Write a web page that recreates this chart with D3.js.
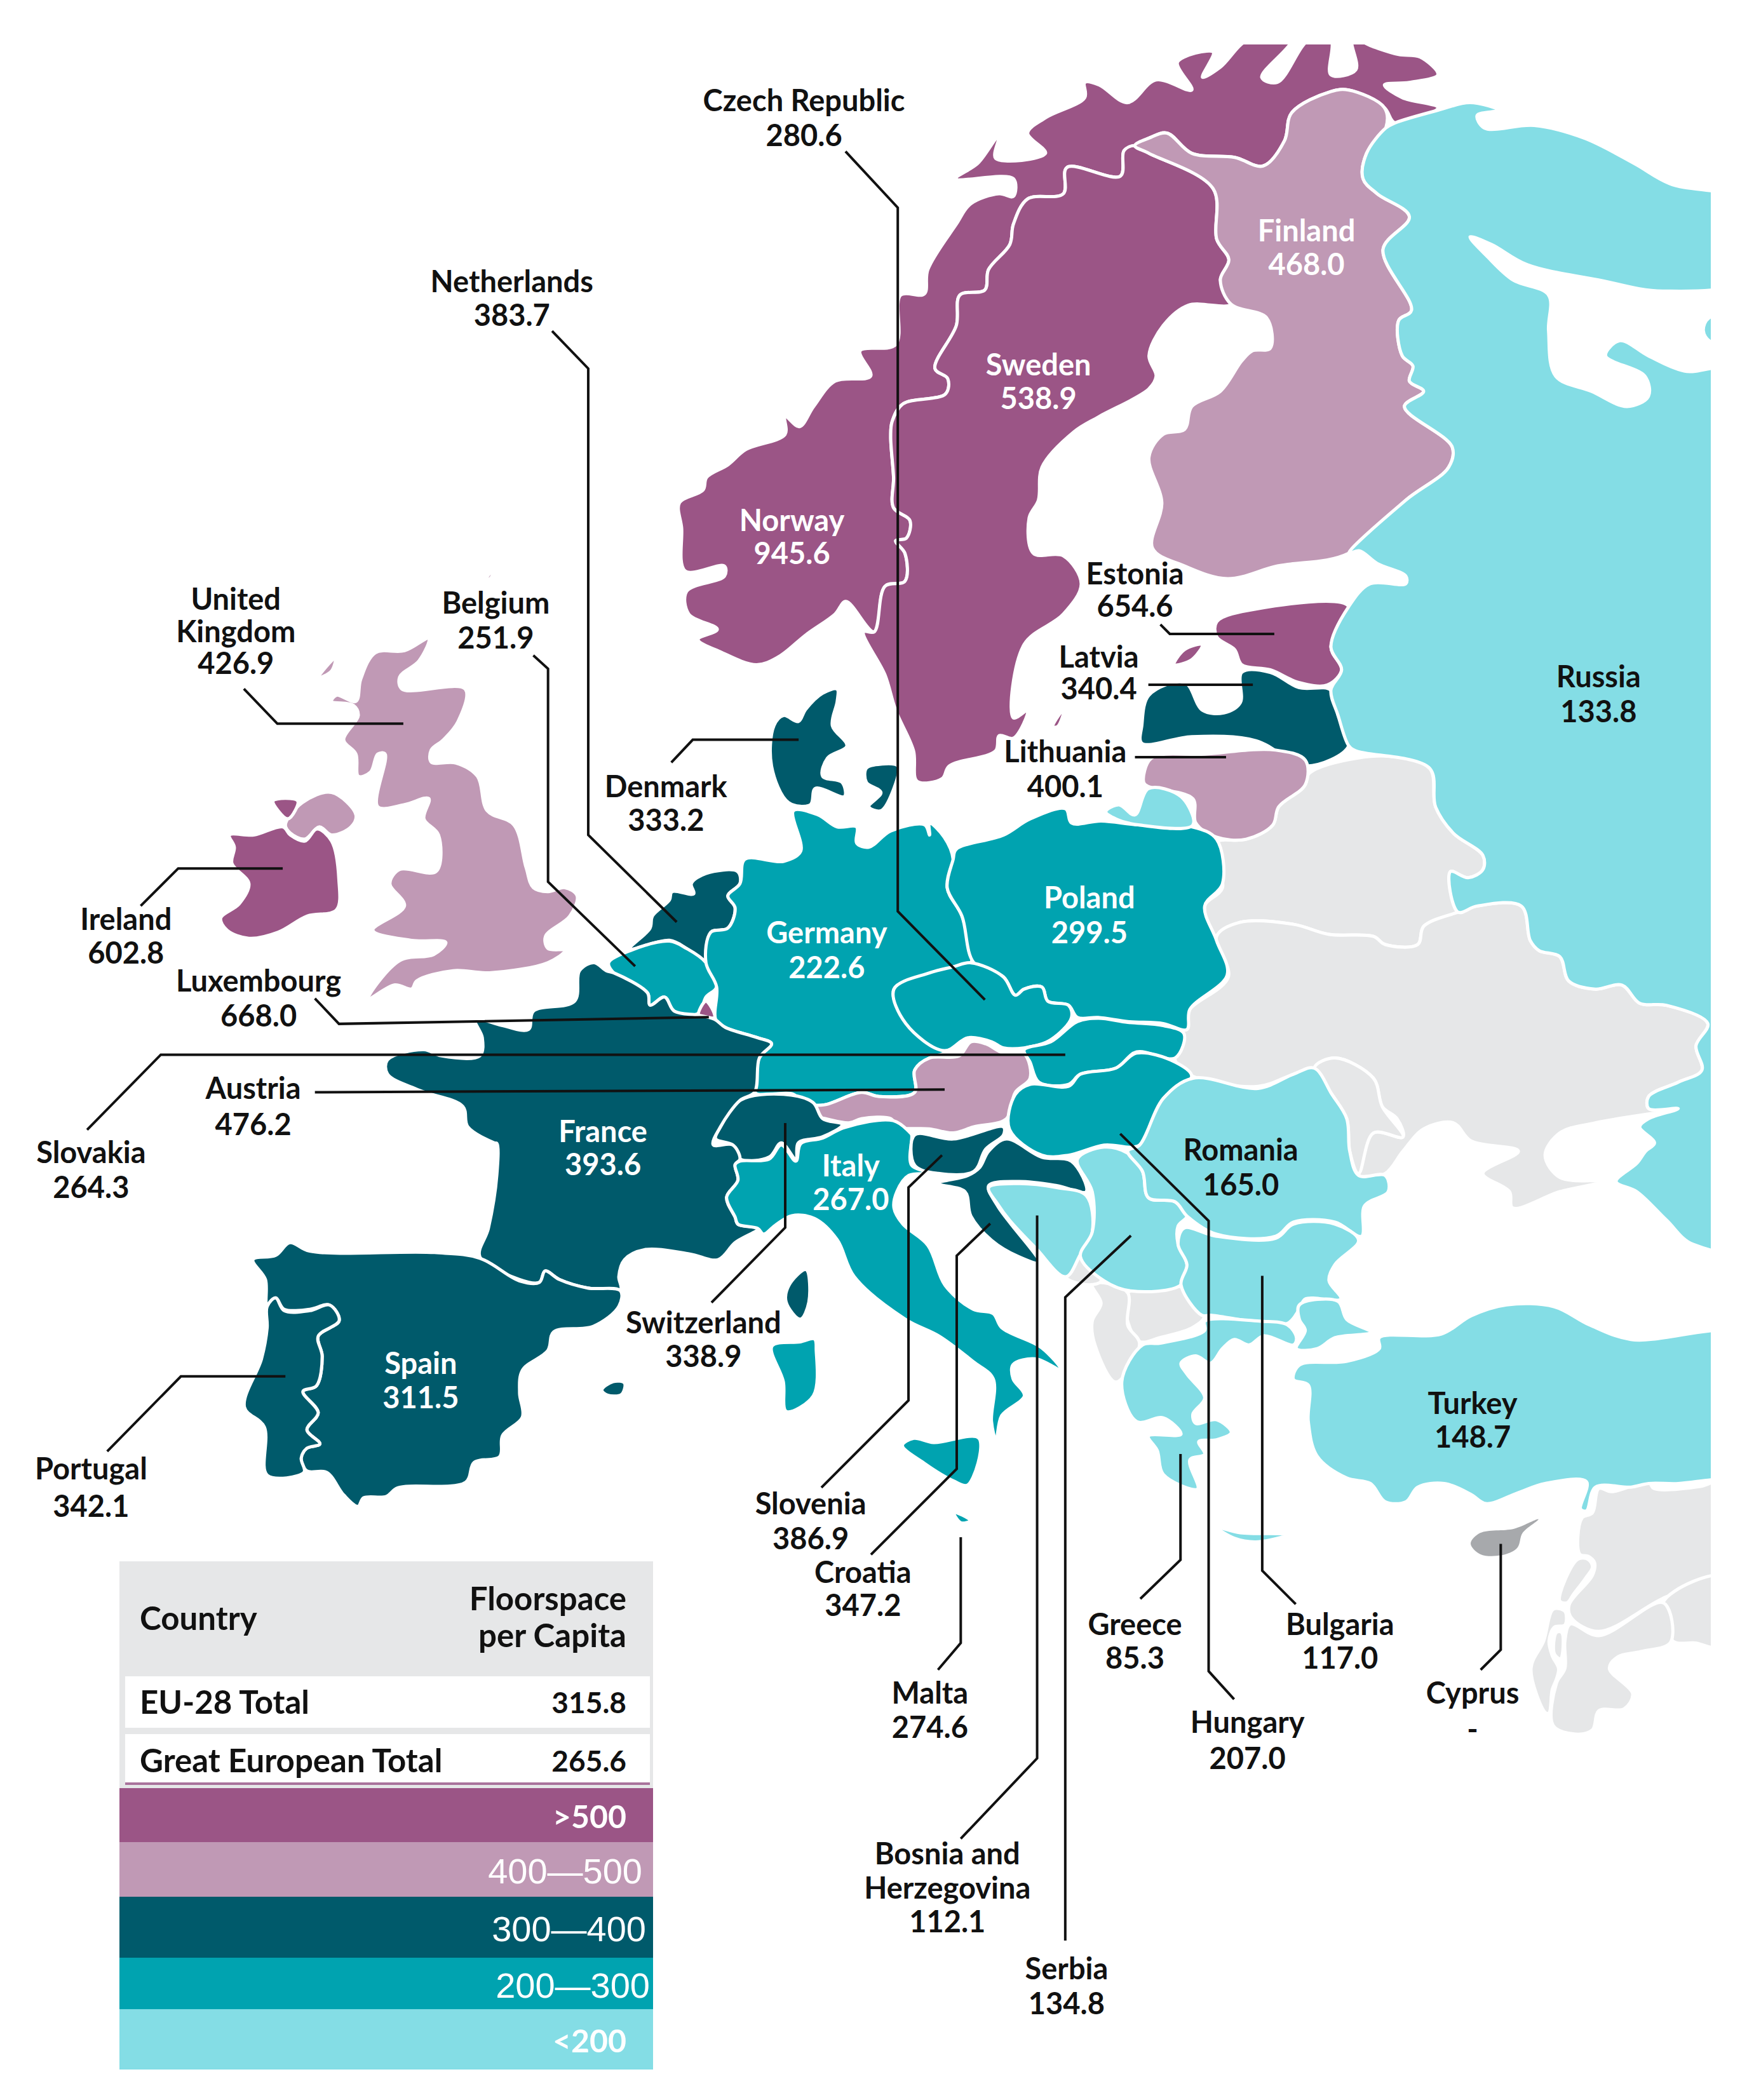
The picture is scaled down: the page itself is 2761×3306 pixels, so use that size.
<!DOCTYPE html>
<html>
<head>
<meta charset="utf-8">
<script src="https://cdn.jsdelivr.net/npm/d3@7"></script>
<style>
html,body{margin:0;padding:0;background:#fff;}
text{font-family:Lato,"Noto Sans",sans-serif;}
</style>
</head>
<body>
<div id="graph"></div>
<script>
// floorspace per capita
var countries = ["Norway","Sweden","Finland","Estonia","Latvia","Lithuania","Denmark","United Kingdom","Ireland","Netherlands","Belgium","Luxembourg","Germany","Poland","Czech Republic","Slovakia","Austria","Hungary","Switzerland","France","Spain","Portugal","Italy","Slovenia","Croatia","Bosnia and Herzegovina","Serbia","Romania","Bulgaria","Greece","Turkey","Russia","Malta"];
var floorspace = [945.6,538.9,468.0,654.6,340.4,400.1,333.2,426.9,602.8,383.7,251.9,668.0,222.6,299.5,280.6,264.3,476.2,207.0,338.9,393.6,311.5,342.1,267.0,386.9,347.2,112.1,134.8,165.0,117.0,85.3,148.7,133.8,274.6];

var binBreaks = [200,300,400,500];
var binColors = ["#84dde5","#00a3b0","#005a6b","#c099b5","#9b5586"];
var binLabels = [">500","400\u2014500","300\u2014400","200\u2014300","<200"];
var totalNames = ["EU-28 Total","Great European Total"];
var totalValues = [315.8,265.6];

// which labels are on dark ground
var whiteLabels = ["Finland","Sweden","Norway","Poland","Germany","France","Italy","Spain"];

var width = 2761, height = 3306;

// outlines were traced on enlarged pieces of the map, each piece has its own scale
function sheet(size, x0, y0, w, h) {
    return {
        x: d3.scaleLinear().domain([0,size]).range([x0,x0+w]),
        y: d3.scaleLinear().domain([0,size]).range([y0,y0+h])
    };
}
var sheets = {
    n: sheet(1568,1000,50,1761,1250),
    w: sheet(1568,300,900,1200,1000),
    e: sheet(1568,1300,1200,1461,1000),
    s: sheet(1568,300,1800,1400,700),
    g: sheet(1568,1300,1750,1461,900),
    m: sheet(1533,2250,2250,511,511)
};
var pageX = d3.scaleLinear().domain([0,1309]).range([0,width]);
var pageY = d3.scaleLinear().domain([0,1567]).range([0,height]);

function ring() {
    var out = [];
    for (var i = 0; i < arguments.length; i += 2) {
        var s = sheets[arguments[i]];
        arguments[i+1].forEach(function(p){ out.push([s.x(p[0]), s.y(p[1])]); });
    }
    return out;
}

var Norway = [ring('n',[[170,1250],[120,1225],[88,1200],[115,1180],[75,1150],[72,1105],[125,1075],[125,1055],[70,1065],[65,980],[62,930],[95,905],[100,880],[130,855],[155,825],[210,795],[210,760],[230,780],[250,740],[280,690],[330,680],[315,630],[365,618],[372,520],[405,518],[410,470],[450,380],[470,340],[510,320],[530,325],[530,290],[450,290],[480,260],[510,205],[505,250],[575,240],[550,200],[575,170],[630,130],[630,100],[650,105],[690,140],[730,95],[780,115],[760,60],[810,40],[795,90],[820,70],[860,15],[920,15],[878,90],[900,100],[945,15],[975,15],[975,85],[1010,75],[1005,15],[1035,30],[1070,45],[1100,50],[1125,85],[1085,100],[1050,105],[1075,130],[1125,150],[1065,180],[1050,150],[1000,115],[975,118],[920,160],[910,215],[880,265],[840,248],[780,240],[745,200],[720,210],[700,225],[685,235],[680,285],[605,268],[600,320],[550,330],[530,380],[525,420],[495,470],[490,510],[455,520],[450,580],[420,665],[438,685],[435,715],[375,735],[360,770],[358,800],[362,880],[362,940],[385,965],[380,1000],[365,1005],[378,1030],[378,1085],[350,1095],[335,1185],[295,1125],[280,1150],[240,1190],[200,1235]])];
var Sweden = [ring('n',[[700,225],[720,240],[810,310],[815,410],[832,450],[820,490],[835,538],[775,540],[740,580],[720,640],[730,680],[720,705],[650,760],[615,790],[570,860],[565,925],[552,960],[558,1030],[600,1035],[625,1090],[600,1150],[545,1210],[530,1355],[550,1340],[530,1395],[510,1390],[505,1420],[440,1450],[430,1475],[395,1480],[390,1420],[365,1340],[350,1270],[320,1185],[335,1185],[350,1095],[378,1085],[378,1030],[365,1005],[380,1000],[385,965],[362,940],[362,880],[358,800],[360,770],[375,735],[435,715],[438,685],[420,665],[450,580],[455,520],[490,510],[495,470],[525,420],[530,380],[550,330],[600,320],[605,268],[680,285],[685,235]]),
    ring('n',[[585,1372],[602,1335],[592,1372]])];
var Finland = [ring('n',[[700,225],[720,210],[745,200],[780,240],[840,248],[880,265],[910,215],[920,160],[975,118],[1000,115],[1050,150],[1052,190],[1025,240],[1020,290],[1040,320],[1085,365],[1048,430],[1088,550],[1070,570],[1075,640],[1090,660],[1085,690],[1105,710],[1078,740],[1145,820],[1140,860],[1080,925],[1000,1030],[900,1055],[830,1080],[770,1055],[725,1020],[738,930],[720,840],[740,795],[770,785],[780,740],[820,710],[850,650],[865,630],[890,625],[885,565],[835,538],[820,490],[832,450],[815,410],[810,310],[720,240]])];
var Russia = [ring('n',[[1125,155],[1170,140],[1210,155],[1180,165],[1190,190],[1260,185],[1330,210],[1400,260],[1450,300],[1560,340],[1560,485],[1440,512],[1350,490],[1250,460],[1200,420],[1170,405],[1195,445],[1230,490],[1280,520],[1280,590],[1290,680],[1340,710],[1390,740],[1420,720],[1415,680],[1360,640],[1380,610],[1420,640],[1470,670],[1560,675]],
    'e',[[1570,1190],[1465,1190],[1420,1130],[1370,1060],[1335,1035],[1370,990],[1385,960],[1400,940],[1375,900],[1390,880],[1440,855],[1390,855],[1390,825],[1440,790],[1480,760],[1470,700],[1490,645],[1420,600],[1375,595],[1345,550],[1300,560],[1255,540],[1240,480],[1205,465],[1190,440],[1175,355],[1100,355],[1068,370],[1055,270],[1085,285],[1110,265],[1110,230],[1060,175],[1030,110],[1020,15]],
    'n',[[1010,1420],[1000,1410],[985,1350],[975,1300],[990,1260],[975,1215],[1000,1135],[1030,1090],[1080,1090],[1080,1075],[1040,1050],[1015,1025],[1000,1030],[1080,925],[1140,860],[1145,820],[1078,740],[1105,710],[1085,690],[1090,660],[1075,640],[1070,570],[1088,550],[1048,430],[1085,365],[1040,320],[1020,290],[1025,240],[1052,190],[1065,180]]),
    ring('n',[[1560,560],[1505,565],[1497,590],[1507,612],[1560,615]]),
    ring('e',[[473,122],[495,105],[522,130],[545,65],[600,85],[620,155],[530,155],[490,140]])];
var Estonia = [ring('n',[[815,1165],[870,1140],[1000,1135],[975,1215],[990,1260],[970,1290],[930,1285],[890,1260],[850,1250],[840,1220],[815,1195]]),
    ring('n',[[755,1250],[770,1220],[795,1210],[780,1240]])];
var Latvia = [ring('n',[[720,1310],[770,1285],[795,1340],[825,1345],[848,1325],[850,1265],[890,1265],[930,1295],[975,1300],[985,1350],[1000,1410],[940,1450],[870,1400],[780,1392],[710,1405],[710,1370]])];
var Lithuania = [ring('e',[[537,50],[550,-10],[640,-20],[760,-30],[810,-5],[810,55],[765,110],[755,155],[710,190],[660,185],[625,150],[620,90],[545,60]])];
var Denmark = [ring('w',[[1330,290],[1330,320],[1320,380],[1350,430],[1310,460],[1300,505],[1340,520],[1345,555],[1285,535],[1275,575],[1230,570],[1195,480],[1200,380],[1220,355],[1250,370],[1265,340],[1300,300]]),
    ring('w',[[1390,485],[1420,475],[1455,480],[1445,540],[1420,590],[1395,580],[1420,545],[1390,520]])];
var UnitedKingdom = [ring('w',[[490,165],[470,220],[430,260],[435,290],[565,290],[550,370],[520,415],[495,440],[495,470],[545,472],[590,505],[610,590],[665,625],[690,730],[705,780],[735,790],[770,780],[795,800],[780,850],[730,900],[735,930],[770,935],[735,965],[615,990],[540,985],[465,1010],[455,1030],[420,1020],[365,1055],[430,960],[500,945],[525,915],[455,910],[375,885],[440,825],[410,770],[430,735],[505,740],[510,650],[480,610],[490,560],[440,575],[385,580],[400,450],[385,450],[370,495],[345,505],[340,450],[315,415],[345,355],[335,330],[290,320],[300,305],[340,320],[350,265],[380,200],[440,195]]),
    ring('w',[[195,625],[230,570],[290,545],[340,600],[330,630],[290,650],[265,630],[235,660],[205,645]]),
    ring('w',[[262,262],[298,212],[290,245]]),
    ring('w',[[296,484],[338,456],[322,474]]),
    ring('w',[[606,22],[622,-5],[618,15]])];
var Ireland = [ring('w',[[80,650],[130,650],[190,630],[205,650],[235,665],[260,635],[290,665],[305,760],[300,835],[240,850],[180,890],[120,905],[75,885],[62,855],[100,820],[120,770],[85,720],[90,680]]),
    ring('w',[[170,565],[220,565],[215,590],[200,610],[180,590]])];
var Netherlands = [ring('w',[[1125,740],[1060,745],[1030,770],[1035,795],[990,790],[985,810],[950,850],[945,880],[905,930],[985,910],[1020,930],[1060,965],[1070,890],[1105,880],[1120,830],[1105,800],[1130,770]])];
var Belgium = [ring('w',[[860,965],[905,935],[985,912],[1020,930],[1060,965],[1082,1025],[1060,1050],[1045,1090],[995,1085],[975,1050],[945,1070],[940,1040],[870,990]])];
var Luxembourg = [ring('w',[[1060,1060],[1078,1100],[1045,1095]])];
var Germany = [ring('w',[[1240,590],[1290,600],[1330,630],[1370,630],[1370,670],[1395,680],[1440,640],[1510,625],[1520,650]],
    'e',[[175,150],[200,185],[215,240],[205,310],[230,380],[245,495],[215,505],[175,525],[115,560],[135,640],[200,715],[175,730],[150,760],[150,815],[90,825],[60,815],[0,845],[-35,850]],
    'w',[[1240,1290],[1160,1285],[1170,1200],[1195,1165],[1165,1150],[1100,1125],[1080,1105],[1082,1025],[1060,965],[1070,890],[1105,880],[1120,830],[1105,800],[1130,770],[1140,710],[1220,715],[1255,690]])];
var Poland = [ring('e',[[220,215],[300,180],[345,140],[405,115],[415,150],[465,145],[530,155],[620,160],[660,190],[670,300],[640,355],[660,440],[678,525],[615,610],[610,660],[570,645],[510,640],[460,630],[425,630],[410,600],[375,590],[365,555],[335,560],[320,575],[300,530],[250,495],[230,380],[205,310],[215,240]])];
var CzechRepublic = [ring('e',[[115,560],[135,645],[200,712],[240,680],[280,690],[300,705],[335,705],[380,685],[415,630],[410,600],[375,590],[365,555],[335,560],[320,575],[300,530],[245,495],[215,505],[175,520]])];
var Slovakia = [ring('e',[[425,640],[460,632],[510,642],[570,650],[605,670],[590,730],[525,715],[490,755],[430,770],[410,795],[360,790],[345,740],[335,710],[380,690]])];
var Austria = [ring('e',[[-35,850],[0,845],[60,815],[90,825],[150,815],[150,760],[175,730],[225,725],[245,690],[270,695],[300,718],[335,720],[345,780],[320,815],[305,880],[250,900],[215,915],[175,905],[120,900],[110,880],[60,880],[40,890],[0,880],[-20,872]])];
var Hungary = [ring('e',[[345,795],[410,800],[430,770],[490,755],[525,718],[590,740],[618,775],[570,830],[530,945],[470,945],[410,970],[365,970],[310,905],[320,820]])];
var Switzerland = [ring('w',[[1080,1400],[1090,1370],[1130,1305],[1220,1290],[1280,1310],[1300,1350],[1340,1365],[1300,1395],[1250,1410],[1245,1450],[1215,1410],[1190,1445],[1130,1450],[1115,1415]])];
var France = [ring('w',[[830,965],[855,985],[870,990],[940,1040],[945,1070],[975,1050],[995,1085],[1045,1095],[1078,1105],[1100,1125],[1165,1150],[1195,1165],[1170,1200],[1160,1285],[1130,1305],[1090,1370],[1075,1415],[1115,1415],[1130,1450]],
    's',[[960,75],[965,130],[945,190],[960,260],[965,285],[1000,300],[960,350],[930,410],[880,390],[800,375],[765,410],[755,470],[758,515],[700,510],[650,480],[625,450],[615,490],[580,480],[510,400],[525,300],[540,110],[540,0]],
    'w',[[625,1410],[570,1370],[560,1320],[470,1280],[405,1240],[405,1205],[480,1180],[515,1195],[595,1195],[600,1150],[585,1105],[640,1120],[695,1130],[705,1085],[790,1060],[800,985]]),
    ring('s',[[1085,445],[1090,560],[1075,620],[1050,560],[1055,500]])];
var Spain = [ring('s',[[110,410],[150,395],[175,350],[210,380],[430,385],[510,405],[580,485],[615,490],[625,450],[650,480],[700,510],[758,520],[755,575],[710,645],[640,665],[630,730],[585,800],[580,880],[585,965],[550,1030],[545,1105],[500,1125],[485,1195],[365,1215],[345,1245],[305,1250],[295,1280],[270,1240],[240,1160],[205,1155],[195,1110],[205,1075],[228,1060],[205,1010],[225,950],[198,875],[222,855],[232,750],[225,680],[262,625],[245,570],[210,585],[165,585],[150,545],[135,570],[132,480]]),
    ring('s',[[725,870],[745,840],[765,845],[760,885],[735,888]])];
var Portugal = [ring('s',[[135,575],[150,545],[165,590],[210,590],[245,570],[262,625],[225,680],[232,750],[222,855],[198,875],[225,950],[205,1010],[228,1060],[205,1075],[195,1110],[200,1160],[135,1170],[130,1000],[95,930],[125,760],[135,650]])];
var Italy = [ring('w',[[1130,1455],[1190,1450],[1215,1415],[1245,1455],[1255,1412],[1300,1398],[1345,1372],[1445,1355],[1480,1385]],
    'e',[[145,920],[145,995],[185,1015],[140,1020],[120,1060],[115,1100],[130,1140]],
    's',[[1300,360],[1330,500],[1380,585],[1415,600],[1430,650],[1500,720],[1535,800],[1490,760],[1450,780],[1450,830],[1470,890],[1430,960],[1420,1045],[1412,980],[1415,830],[1380,770],[1320,680],[1260,620],[1170,470],[1140,340],[1100,265],[1060,255],[1030,290],[1010,320],[1000,300],[965,285],[960,260],[945,190],[965,130],[960,75]]),
    ring('s',[[1025,715],[1075,700],[1100,690],[1103,730],[1098,890],[1050,945],[1045,840]]),
    ring('s',[[1255,1065],[1275,1040],[1310,1055],[1390,1040],[1370,1205],[1345,1190],[1295,1130]])];
var Slovenia = [ring('e',[[150,920],[215,930],[300,900],[300,920],[270,955],[250,1010],[190,1015],[150,995]])];
var Croatia = [ring('e',[[305,930],[365,975],[415,985],[440,1060],[390,1045],[325,1035],[275,1045],[290,1095],[310,1135],[360,1235],[325,1220],[280,1180],[245,1120],[235,1060],[190,1040],[240,1020],[260,1000],[275,960]])];
var BosniaHerzegovina = [ring('e',[[275,1050],[325,1040],[390,1050],[440,1070],[450,1160],[430,1215],[405,1270],[355,1200],[310,1130],[290,1090]])];
var Serbia = [ring('e',[[425,980],[470,950],[510,965],[535,1010],[545,1075],[590,1085],[610,1120],[595,1145],[595,1190],[610,1240],[600,1290],[515,1305],[470,1280],[430,1220],[450,1160],[450,1060]])];
var Romania = [ring('e',[[620,780],[730,805],[790,770],[825,755],[855,820],[880,880],[885,960],[900,1020],[945,1020],[950,1060],[910,1095],[905,1170],[860,1135],[790,1135],[760,1170],[660,1165],[610,1120],[590,1085],[545,1075],[535,1010],[510,960],[530,945],[570,830]])];
var Bulgaria = [ring('e',[[605,1150],[660,1170],[760,1175],[790,1140],[860,1140],[900,1180],[860,1240],[850,1280],[870,1325],[810,1325],[800,1350],[780,1385],[720,1380],[650,1365],[635,1365],[600,1290],[610,1240],[595,1190]])];
var Greece = [ring('g',[[535,640],[565,635],[640,600],[640,575],[735,575],[780,585],[795,620],[790,640],[740,615],[715,640],[690,625],[670,650],[650,690],[625,670],[600,690],[610,720],[640,785],[620,830],[625,855],[660,845],[685,880],[660,900],[630,905],[640,940],[615,955],[628,1035],[570,995],[560,930],[545,890],[600,885],[570,840],[525,850],[500,740]]),
    ring('g',[[660,1140],[700,1155],[780,1160],[730,1180],[690,1170]])];
var Turkey = [ring('g',[[935,620],[1040,610],[1090,560],[1150,530],[1230,535],[1290,585],[1360,625],[1570,620],[1570,1000],[1495,1010],[1440,1020],[1390,1020],[1360,1030],[1300,1030],[1285,1095],[1275,1090],[1285,1015],[1215,1020],[1170,1045],[1115,1075],[1090,1050],[1045,1020],[1000,1030],[980,1070],[945,1070],[920,1020],[880,1005],[830,945],[815,850],[815,750],[790,735],[800,695],[880,685],[935,650]]),
    ring('g',[[800,530],[865,520],[880,570],[920,605],[860,620],[830,650],[795,650],[810,600],[800,570]])];
var Malta = [ring('s',[[1345,1300],[1375,1330],[1358,1338]])];

// no data, grey
var Cyprus = ring('m',[[195,540],[240,490],[400,470],[515,425],[440,490],[415,560],[340,595],[240,590]]);
var noData = [
    // Belarus
    ring('e',[[815,30],[850,5],[950,-15],[1020,15],[1030,110],[1060,175],[1110,230],[1110,265],[1085,285],[1055,270],[1068,370],[1010,405],[1000,450],[945,450],[925,430],[850,425],[790,400],[700,395],[660,430],[640,355],[670,310],[655,200],[710,190],[755,155],[765,110],[810,55]]),
    // Ukraine
    ring('e',[[660,430],[700,395],[790,400],[850,425],[925,430],[945,450],[1000,450],[1010,405],[1068,370],[1100,355],[1175,355],[1190,440],[1205,465],[1240,480],[1255,540],[1300,560],[1345,550],[1375,595],[1420,600],[1490,645],[1470,700],[1480,760],[1440,790],[1390,825],[1390,855],[1440,855],[1300,890],[1240,915],[1215,970],[1240,1025],[1310,1035],[1240,1060],[1160,1100],[1155,1060],[1110,1015],[1170,960],[1090,935],[1060,890],[1010,905],[975,960],[945,1015],[905,1025],[900,1015],[925,915],[975,925],[965,880],[940,850],[925,780],[860,730],[825,755],[790,770],[730,800],[620,775],[590,735],[610,640],[615,610],[680,530]]),
    // Moldova
    ring('e',[[825,755],[860,730],[925,780],[940,850],[975,925],[925,915],[900,1015],[885,960],[880,880],[855,820]]),
    // Macedonia
    ring('e',[[510,1310],[600,1295],[640,1365],[620,1395],[565,1420],[530,1430],[510,1380]]),
    // Albania
    ring('e',[[450,1290],[470,1285],[510,1310],[510,1390],[530,1435],[490,1530],[455,1440],[450,1380],[465,1335]]),
    // Montenegro
    ring('e',[[405,1270],[430,1220],[465,1280],[445,1290]]),
    // Syria
    ring('m',[[720,420],[770,395],[800,280],[860,295],[1035,250],[1060,280],[1280,270],[1400,240],[1400,670],[1100,800],[800,955],[670,890],[660,830],[770,690],[780,630],[750,600],[710,590]]),
    // Lebanon
    ring('m',[[700,615],[750,615],[770,650],[740,700],[680,780],[650,820],[615,810]]),
    // Iraq
    ring('m',[[1105,815],[1400,695],[1400,1040],[1330,1030],[1260,1010],[1150,1000]]),
    // Jordan
    ring('m',[[665,920],[800,975],[1105,820],[1140,1005],[1000,1050],[890,1075],[850,1130],[960,1250],[920,1320],[800,1330],[770,1420],[690,1440],[585,1400],[600,1200],[640,1130],[640,1000]]),
    // Israel
    ring('m',[[585,850],[640,860],[640,925],[590,935],[565,1000],[580,1070],[610,1130],[600,1180],[580,1230],[565,1340],[550,1340],[480,1130],[540,1000]]),
    ring('m',[[600,960],[625,960],[620,1085],[590,1060]])
];

var shapes = [Norway,Sweden,Finland,Estonia,Latvia,Lithuania,Denmark,UnitedKingdom,Ireland,Netherlands,Belgium,Luxembourg,Germany,Poland,CzechRepublic,Slovakia,Austria,Hungary,Switzerland,France,Spain,Portugal,Italy,Slovenia,Croatia,BosniaHerzegovina,Serbia,Romania,Bulgaria,Greece,Turkey,Russia,Malta];

// name lines, value line, placed on the page sheet
var labelLines = {"United Kingdom":["United","Kingdom"],"Bosnia and Herzegovina":["Bosnia and","Herzegovina"]};
var labelPlace = {
    "Czech Republic":[600,75,101],"Netherlands":[382,210,235],"Finland":[975,172,197],"Sweden":[775,272,297],
    "Norway":[591,388,413],"Estonia":[847,428,452],"Belgium":[370,450,476],"United Kingdom":[176,447,495],
    "Latvia":[820,490,514],"Russia":[1193,505,531],"Lithuania":[795,561,587],"Denmark":[497,587,612],
    "Poland":[813,670,696],"Germany":[617,696,722],"Ireland":[94,686,711],"Luxembourg":[193,732,758],
    "Austria":[189,812,839],"Slovakia":[68,860,886],"France":[450,844,869],"Romania":[926,858,884],
    "Italy":[635,870,895],"Switzerland":[525,987,1012],"Spain":[314,1017,1043],"Turkey":[1099,1047,1072],
    "Portugal":[68,1096,1124],"Slovenia":[605,1122,1148],"Croatia":[644,1173,1198],"Greece":[847,1212,1237],
    "Bulgaria":[1000,1212,1237],"Malta":[694,1263,1289],"Hungary":[931,1285,1312],
    "Bosnia and Herzegovina":[707,1383,1434],"Serbia":[796,1469,1495]
};

// leader lines on the page sheet
var leaders = [
    [[631,113],[670,155],[670,680],[735,746]],
    [[412,247],[439,275],[439,623],[505,688]],
    [[398,489],[409,499],[409,658],[474,721]],
    [[182,514],[207,540],[301,540]],
    [[501,569],[517,552],[596,552]],
    [[105,676],[133,648],[211,648]],
    [[235,745],[253,764],[529,759]],
    [[65,843],[120,787],[795,787]],
    [[235,815],[705,813]],
    [[866,466],[873,473],[951,473]],
    [[857,511],[935,511]],
    [[847,565],[915,565]],
    [[531,972],[586,916],[586,838]],
    [[80,1083],[135,1027],[213,1027]],
    [[613,1110],[678,1045],[678,886],[703,862]],
    [[650,1160],[714,1096],[714,937],[739,913]],
    [[700,1246],[717,1226],[717,1147]],
    [[717,1372],[774,1312],[774,907]],
    [[795,1448],[795,968],[844,922]],
    [[921,1268],[902,1247],[902,911],[836,846]],
    [[851,1193],[881,1164],[881,1085]],
    [[967,1197],[942,1172],[942,952]],
    [[1105,1246],[1120,1231],[1120,1152]]
];

var color = d3.scaleThreshold().domain(binBreaks).range(binColors);

var svg = d3.select("#graph").append("svg")
    .attr("width", width)
    .attr("height", height)
    .style("display","block");

svg.append("defs").append("clipPath")
    .attr("id","clip")
    .append("rect")
    .attr("x",0).attr("y",70)
    .attr("width",2693).attr("height",height);

var outline = d3.line().curve(d3.curveCatmullRomClosed.alpha(0.5));
var map = svg.append("g").attr("clip-path","url(#clip)");

map.selectAll("path.nodata")
    .data(noData)
    .enter().append("path")
    .attr("class","nodata")
    .attr("d",outline)
    .attr("fill","#e6e7e8")
    .attr("stroke","#fff")
    .attr("stroke-width",5);

countries.forEach(function(name,i){
    map.append("g").selectAll("path")
        .data(shapes[i])
        .enter().append("path")
        .attr("d",outline)
        .attr("fill",color(floorspace[i]))
        .attr("stroke","#fff")
        .attr("stroke-width",5)
        .attr("stroke-linejoin","round");
});

map.append("path")
    .attr("d",outline(Cyprus))
    .attr("fill","#a7a9ac");

var line = d3.line().x(function(d){return pageX(d[0]);}).y(function(d){return pageY(d[1]);});
svg.selectAll("path.leader")
    .data(leaders)
    .enter().append("path")
    .attr("class","leader")
    .attr("d",line)
    .attr("fill","none")
    .attr("stroke","#111")
    .attr("stroke-width",4);

function addText(x,y,str,fill,anchor,size,weight,family){
    var t = svg.append("text")
        .attr("x",x).attr("y",y)
        .attr("dy","0.36em")
        .attr("text-anchor",anchor||"middle")
        .attr("fill",fill)
        .attr("font-size",size||47)
        .attr("font-weight",weight||700)
        .text(str);
    if (family) t.style("font-family",family);
    return t;
}

countries.forEach(function(name,i){
    var p = labelPlace[name];
    var fill = whiteLabels.indexOf(name) >= 0 ? "#fff" : "#111";
    var lines = labelLines[name] || [name];
    lines.forEach(function(l,j){
        var yy = lines.length > 1 ? p[1] + j*((p[2]-p[1])/lines.length) : p[1];
        addText(pageX(p[0]),pageY(yy),l,fill);
    });
    addText(pageX(p[0]),pageY(p[2]),floorspace[i].toFixed(1),fill);
});
addText(pageX(1099),pageY(1263),"Cyprus","#111");
addText(pageX(1099),pageY(1290),"-","#111");

// legend table
var tableSize = 51;
svg.append("rect").attr("x",188).attr("y",2458).attr("width",840).attr("height",357).attr("fill","#e6e7e8");
svg.append("rect").attr("x",197).attr("y",2639).attr("width",826).attr("height",81).attr("fill","#fff");
svg.append("rect").attr("x",197).attr("y",2730).attr("width",826).attr("height",76).attr("fill","#fff");
svg.append("rect").attr("x",197).attr("y",2806).attr("width",826).attr("height",4).attr("fill","#a9739c");

addText(220,2548,"Country","#111","start",tableSize);
addText(986,2517,"Floorspace","#111","end",tableSize);
addText(986,2575,"per Capita","#111","end",tableSize);
var totalY = d3.scalePoint().domain(totalNames).range([2680,2772]);
totalNames.forEach(function(n,i){
    addText(220,totalY(n),n,"#111","start",tableSize);
    addText(986,totalY(n),totalValues[i].toFixed(1),"#111","end",46);
});

var bandTop = [2815,2900,2986,3082,3163], bandEnd = [2900,2986,3082,3163,3258];
var bandRight = [986,1011,1017,1023,986];
binLabels.forEach(function(l,i){
    svg.append("rect")
        .attr("x",188).attr("y",bandTop[i])
        .attr("width",840).attr("height",bandEnd[i]-bandTop[i])
        .attr("fill",binColors[binColors.length-1-i]);
    var plain = i > 0 && i < 4;
    addText(bandRight[i],(bandTop[i]+bandEnd[i])/2+2,l,"#fff","end",plain?56:50,plain?400:700,plain?"Liberation Sans":null);
});
</script>
</body>
</html>
